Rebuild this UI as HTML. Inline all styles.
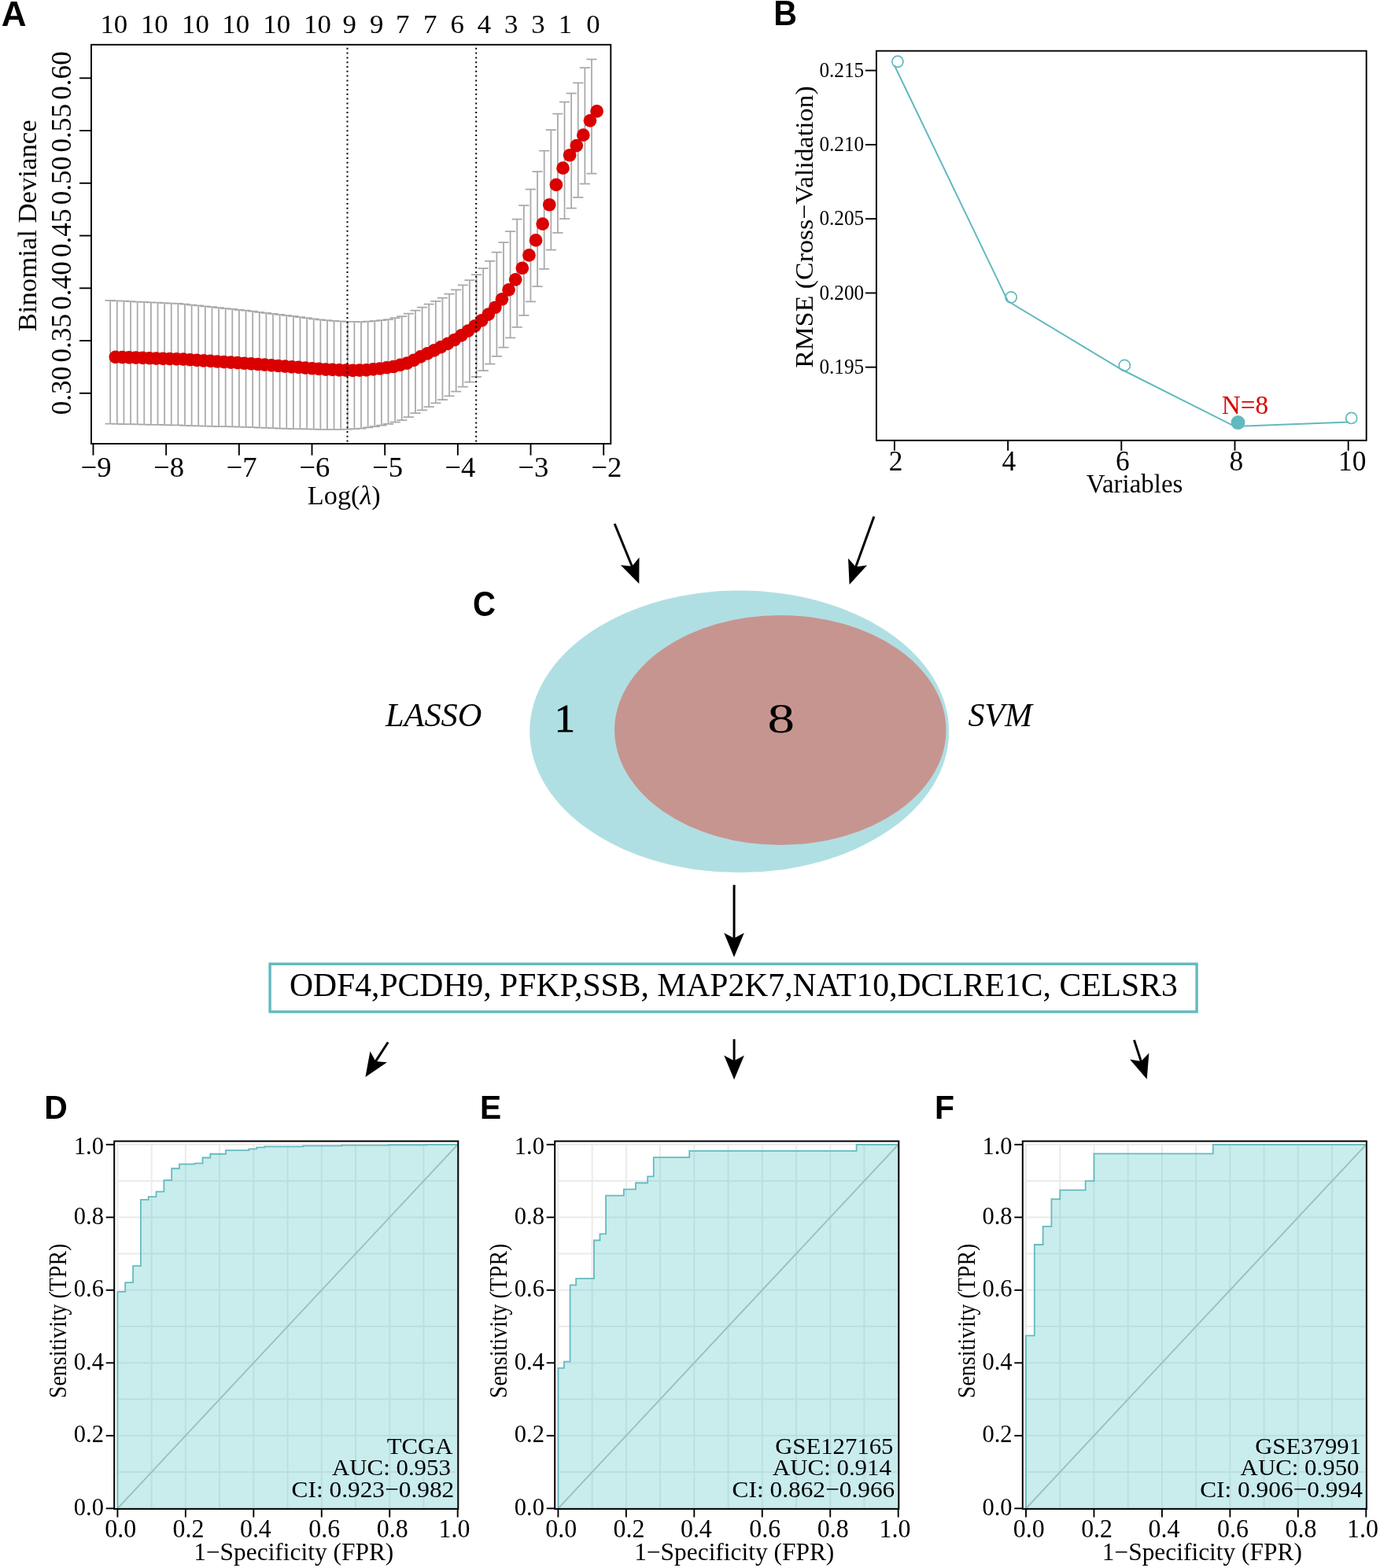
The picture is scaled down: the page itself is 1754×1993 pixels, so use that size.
<!DOCTYPE html><html><head><meta charset="utf-8"><title>Figure</title><style>html,body{margin:0;padding:0;background:#fff;}svg{display:block;}</style></head><body>
<svg width="1754" height="1993" viewBox="0 0 1754 1993">
<rect width="1754" height="1993" fill="#fff"/>
<path d="M140.2 381.9V538.7M133.6 381.9H146.8M133.6 538.7H146.8M148.82 382.3V538.88M142.22 382.3H155.42M142.22 538.88H155.42M157.43 382.7V539.06M150.83 382.7H164.03M150.83 539.06H164.03M166.05 383.1V539.24M159.45 383.1H172.65M159.45 539.24H172.65M174.67 383.5V539.42M168.07 383.5H181.27M168.07 539.42H181.27M183.28 383.91V539.59M176.69 383.91H189.88M176.69 539.59H189.88M191.9 384.31V539.77M185.3 384.31H198.5M185.3 539.77H198.5M200.52 384.71V539.95M193.92 384.71H207.12M193.92 539.95H207.12M209.14 385.11V540.13M202.54 385.11H215.74M202.54 540.13H215.74M217.75 385.51V540.31M211.15 385.51H224.35M211.15 540.31H224.35M226.37 385.91V540.49M219.77 385.91H232.97M219.77 540.49H232.97M234.99 386.63V540.89M228.39 386.63H241.59M228.39 540.89H241.59M243.6 387.52V541.12M237 387.52H250.2M237 541.12H250.2M252.22 388.42V541.34M245.62 388.42H258.82M245.62 541.34H258.82M260.84 389.32V541.56M254.24 389.32H267.44M254.24 541.56H267.44M269.46 390.21V541.79M262.86 390.21H276.06M262.86 541.79H276.06M278.07 391.11V542.01M271.47 391.11H284.67M271.47 542.01H284.67M286.69 392.01V542.23M280.09 392.01H293.29M280.09 542.23H293.29M295.31 392.9V542.46M288.71 392.9H301.91M288.71 542.46H301.91M303.92 393.8V542.68M297.32 393.8H310.52M297.32 542.68H310.52M312.54 394.7V542.9M305.94 394.7H319.14M305.94 542.9H319.14M321.16 395.72V543.24M314.56 395.72H327.76M314.56 543.24H327.76M329.77 396.75V543.57M323.17 396.75H336.37M323.17 543.57H336.37M338.39 397.79V543.89M331.79 397.79H344.99M331.79 543.89H344.99M347.01 398.83V544.21M340.41 398.83H353.61M340.41 544.21H353.61M355.62 399.87V544.53M349.02 399.87H362.23M349.02 544.53H362.23M364.24 400.86V544.81M357.64 400.86H370.84M357.64 544.81H370.84M372.86 401.93V545M366.26 401.93H379.46M366.26 545H379.46M381.48 403.02V545.18M374.88 403.02H388.08M374.88 545.18H388.08M390.09 404.13V545.4M383.49 404.13H396.69M383.49 545.4H396.69M398.71 405.25V545.61M392.11 405.25H405.31M392.11 545.61H405.31M407.33 406.37V545.83M400.73 406.37H413.93M400.73 545.83H413.93M415.94 407.11V545.79M409.34 407.11H422.54M409.34 545.79H422.54M424.56 407.77V545.83M417.96 407.77H431.16M417.96 545.83H431.16M433.18 408.34V545.76M426.58 408.34H439.78M426.58 545.76H439.78M441.8 408.9V545.7M435.19 408.9H448.4M435.19 545.7H448.4M450.41 408.99V545.11M443.81 408.99H457.01M443.81 545.11H457.01M459.03 409.09V544.51M452.43 409.09H465.63M452.43 544.51H465.63M467.65 408.53V543.27M461.05 408.53H474.25M461.05 543.27H474.25M476.26 407.95V542.05M469.66 407.95H482.86M469.66 542.05H482.86M484.88 407V540.5M478.28 407H491.48M478.28 540.5H491.48M493.5 406.04V538.96M486.9 406.04H500.1M486.9 538.96H500.1M502.11 404.07V536.53M495.51 404.07H508.71M495.51 536.53H508.71M510.73 402.09V534.11M504.13 402.09H517.33M504.13 534.11H517.33M519.35 398.68V530.12M512.75 398.68H525.95M512.75 530.12H525.95M527.97 394.5V525.2M521.37 394.5H534.57M521.37 525.2H534.57M536.58 390.5V521.3M529.98 390.5H543.18M529.98 521.3H543.18M545.2 386.7V517.1M538.6 386.7H551.8M538.6 517.1H551.8M553.82 382.8V512.3M547.22 382.8H560.42M547.22 512.3H560.42M562.43 378.5V508.1M555.83 378.5H569.03M555.83 508.1H569.03M571.05 373.7V503.3M564.45 373.7H577.65M564.45 503.3H577.65M579.67 368.4V497.5M573.07 368.4H586.27M573.07 497.5H586.27M588.28 362.4V491.7M581.68 362.4H594.88M581.68 491.7H594.88M596.9 356V485.7M590.3 356H603.5M590.3 485.7H603.5M605.52 349.1V478.8M598.92 349.1H612.12M598.92 478.8H612.12M614.13 341.2V471.2M607.53 341.2H620.74M607.53 471.2H620.74M622.75 331.9V462.6M616.15 331.9H629.35M616.15 462.6H629.35M631.37 320.7V452.9M624.77 320.7H637.97M624.77 452.9H637.97M639.99 308.2V441.5M633.39 308.2H646.59M633.39 441.5H646.59M648.6 294.2V429.4M642 294.2H655.2M642 429.4H655.2M657.22 278.7V415.8M650.62 278.7H663.82M650.62 415.8H663.82M665.84 261.1V400.8M659.24 261.1H672.44M659.24 400.8H672.44M674.45 240.6V383.3M667.85 240.6H681.05M667.85 383.3H681.05M683.07 218V364.1M676.47 218H689.67M676.47 364.1H689.67M691.69 191.6V341.9M685.09 191.6H698.29M685.09 341.9H698.29M700.31 165.1V317.7M693.71 165.1H706.91M693.71 317.7H706.91M708.92 144.6V295.8M702.32 144.6H715.52M702.32 295.8H715.52M717.54 129.5V278M710.94 129.5H724.14M710.94 278H724.14M726.16 118.6V264.5M719.56 118.6H732.76M719.56 264.5H732.76M734.77 105.4V250.9M728.17 105.4H741.37M728.17 250.9H741.37M743.39 86.2V233.5M736.79 86.2H749.99M736.79 233.5H749.99M752.01 75.3V220.5M745.41 75.3H758.61M745.41 220.5H758.61" stroke="#A9A9A9" stroke-width="1.75" fill="none"/>
<circle cx="146.8" cy="453.8" r="8.35" fill="#DA0000"/>
<circle cx="155.42" cy="454.09" r="8.35" fill="#DA0000"/>
<circle cx="164.03" cy="454.38" r="8.35" fill="#DA0000"/>
<circle cx="172.65" cy="454.67" r="8.35" fill="#DA0000"/>
<circle cx="181.27" cy="454.96" r="8.35" fill="#DA0000"/>
<circle cx="189.88" cy="455.25" r="8.35" fill="#DA0000"/>
<circle cx="198.5" cy="455.54" r="8.35" fill="#DA0000"/>
<circle cx="207.12" cy="455.83" r="8.35" fill="#DA0000"/>
<circle cx="215.74" cy="456.12" r="8.35" fill="#DA0000"/>
<circle cx="224.35" cy="456.41" r="8.35" fill="#DA0000"/>
<circle cx="232.97" cy="456.7" r="8.35" fill="#DA0000"/>
<circle cx="241.59" cy="457.26" r="8.35" fill="#DA0000"/>
<circle cx="250.2" cy="457.82" r="8.35" fill="#DA0000"/>
<circle cx="258.82" cy="458.38" r="8.35" fill="#DA0000"/>
<circle cx="267.44" cy="458.94" r="8.35" fill="#DA0000"/>
<circle cx="276.06" cy="459.5" r="8.35" fill="#DA0000"/>
<circle cx="284.67" cy="460.06" r="8.35" fill="#DA0000"/>
<circle cx="293.29" cy="460.62" r="8.35" fill="#DA0000"/>
<circle cx="301.91" cy="461.18" r="8.35" fill="#DA0000"/>
<circle cx="310.52" cy="461.74" r="8.35" fill="#DA0000"/>
<circle cx="319.14" cy="462.3" r="8.35" fill="#DA0000"/>
<circle cx="327.76" cy="462.98" r="8.35" fill="#DA0000"/>
<circle cx="336.37" cy="463.66" r="8.35" fill="#DA0000"/>
<circle cx="344.99" cy="464.34" r="8.35" fill="#DA0000"/>
<circle cx="353.61" cy="465.02" r="8.35" fill="#DA0000"/>
<circle cx="362.23" cy="465.7" r="8.35" fill="#DA0000"/>
<circle cx="370.84" cy="466.33" r="8.35" fill="#DA0000"/>
<circle cx="379.46" cy="466.97" r="8.35" fill="#DA0000"/>
<circle cx="388.08" cy="467.6" r="8.35" fill="#DA0000"/>
<circle cx="396.69" cy="468.27" r="8.35" fill="#DA0000"/>
<circle cx="405.31" cy="468.93" r="8.35" fill="#DA0000"/>
<circle cx="413.93" cy="469.6" r="8.35" fill="#DA0000"/>
<circle cx="422.54" cy="469.95" r="8.35" fill="#DA0000"/>
<circle cx="431.16" cy="470.3" r="8.35" fill="#DA0000"/>
<circle cx="439.78" cy="470.55" r="8.35" fill="#DA0000"/>
<circle cx="448.4" cy="470.8" r="8.35" fill="#DA0000"/>
<circle cx="457.01" cy="470.55" r="8.35" fill="#DA0000"/>
<circle cx="465.63" cy="470.3" r="8.35" fill="#DA0000"/>
<circle cx="474.25" cy="469.4" r="8.35" fill="#DA0000"/>
<circle cx="482.86" cy="468.5" r="8.35" fill="#DA0000"/>
<circle cx="491.48" cy="467.25" r="8.35" fill="#DA0000"/>
<circle cx="500.1" cy="466" r="8.35" fill="#DA0000"/>
<circle cx="508.71" cy="463.8" r="8.35" fill="#DA0000"/>
<circle cx="517.33" cy="461.6" r="8.35" fill="#DA0000"/>
<circle cx="525.95" cy="457.9" r="8.35" fill="#DA0000"/>
<circle cx="534.57" cy="453.35" r="8.35" fill="#DA0000"/>
<circle cx="543.18" cy="449.4" r="8.35" fill="#DA0000"/>
<circle cx="551.8" cy="445.4" r="8.35" fill="#DA0000"/>
<circle cx="560.42" cy="441.05" r="8.35" fill="#DA0000"/>
<circle cx="569.03" cy="436.8" r="8.35" fill="#DA0000"/>
<circle cx="577.65" cy="432" r="8.35" fill="#DA0000"/>
<circle cx="586.27" cy="426.45" r="8.35" fill="#DA0000"/>
<circle cx="594.88" cy="420.55" r="8.35" fill="#DA0000"/>
<circle cx="603.5" cy="414.35" r="8.35" fill="#DA0000"/>
<circle cx="612.12" cy="407.45" r="8.35" fill="#DA0000"/>
<circle cx="620.74" cy="399.7" r="8.35" fill="#DA0000"/>
<circle cx="629.35" cy="390.75" r="8.35" fill="#DA0000"/>
<circle cx="637.97" cy="380.3" r="8.35" fill="#DA0000"/>
<circle cx="646.59" cy="368.35" r="8.35" fill="#DA0000"/>
<circle cx="655.2" cy="355.3" r="8.35" fill="#DA0000"/>
<circle cx="663.82" cy="340.75" r="8.35" fill="#DA0000"/>
<circle cx="672.44" cy="324.45" r="8.35" fill="#DA0000"/>
<circle cx="681.05" cy="305.45" r="8.35" fill="#DA0000"/>
<circle cx="689.67" cy="284.55" r="8.35" fill="#DA0000"/>
<circle cx="698.29" cy="260.25" r="8.35" fill="#DA0000"/>
<circle cx="706.91" cy="234.9" r="8.35" fill="#DA0000"/>
<circle cx="715.52" cy="213.7" r="8.35" fill="#DA0000"/>
<circle cx="724.14" cy="197.25" r="8.35" fill="#DA0000"/>
<circle cx="732.76" cy="185.05" r="8.35" fill="#DA0000"/>
<circle cx="741.37" cy="171.65" r="8.35" fill="#DA0000"/>
<circle cx="749.99" cy="153.35" r="8.35" fill="#DA0000"/>
<circle cx="758.61" cy="141.4" r="8.35" fill="#DA0000"/>
<line x1="441.5" y1="60.8" x2="441.5" y2="561.5" stroke="#000" stroke-width="2" stroke-dasharray="2 3.8"/>
<line x1="605.2" y1="60.8" x2="605.2" y2="561.5" stroke="#000" stroke-width="2" stroke-dasharray="2 3.8"/>
<rect x="116" y="56.8" width="660.3" height="507.2" fill="none" stroke="#000" stroke-width="1.9"/>
<line x1="101" y1="499.8" x2="116" y2="499.8" stroke="#000" stroke-width="1.9" />
<text transform="translate(90.28,527.2) rotate(-90) scale(0.9755,1)" font-family="'Liberation Serif', 'Times New Roman', serif" font-size="35.97" fill="#000" >0.30</text>
<line x1="101" y1="433.05" x2="116" y2="433.05" stroke="#000" stroke-width="1.9" />
<text transform="translate(90.28,460.45) rotate(-90) scale(0.9755,1)" font-family="'Liberation Serif', 'Times New Roman', serif" font-size="35.97" fill="#000" >0.35</text>
<line x1="101" y1="366.3" x2="116" y2="366.3" stroke="#000" stroke-width="1.9" />
<text transform="translate(90.28,393.7) rotate(-90) scale(0.9755,1)" font-family="'Liberation Serif', 'Times New Roman', serif" font-size="35.97" fill="#000" >0.40</text>
<line x1="101" y1="299.55" x2="116" y2="299.55" stroke="#000" stroke-width="1.9" />
<text transform="translate(90.28,326.95) rotate(-90) scale(0.9755,1)" font-family="'Liberation Serif', 'Times New Roman', serif" font-size="35.97" fill="#000" >0.45</text>
<line x1="101" y1="232.8" x2="116" y2="232.8" stroke="#000" stroke-width="1.9" />
<text transform="translate(90.28,260.2) rotate(-90) scale(0.9755,1)" font-family="'Liberation Serif', 'Times New Roman', serif" font-size="35.97" fill="#000" >0.50</text>
<line x1="101" y1="166.05" x2="116" y2="166.05" stroke="#000" stroke-width="1.9" />
<text transform="translate(90.28,193.45) rotate(-90) scale(0.9755,1)" font-family="'Liberation Serif', 'Times New Roman', serif" font-size="35.97" fill="#000" >0.55</text>
<line x1="101" y1="99.3" x2="116" y2="99.3" stroke="#000" stroke-width="1.9" />
<text transform="translate(90.28,126.7) rotate(-90) scale(0.9755,1)" font-family="'Liberation Serif', 'Times New Roman', serif" font-size="35.97" fill="#000" >0.60</text>
<line x1="118.5" y1="564" x2="118.5" y2="578.7" stroke="#000" stroke-width="1.9" />
<text transform="translate(102.46,606.44) scale(1.0093,1)" font-family="'Liberation Serif', 'Times New Roman', serif" font-size="36.36" fill="#000" >−9</text>
<line x1="211.17" y1="564" x2="211.17" y2="578.7" stroke="#000" stroke-width="1.9" />
<text transform="translate(194.95,606.44) scale(1.0093,1)" font-family="'Liberation Serif', 'Times New Roman', serif" font-size="36.36" fill="#000" >−8</text>
<line x1="303.84" y1="564" x2="303.84" y2="578.7" stroke="#000" stroke-width="1.9" />
<text transform="translate(287.44,606.44) scale(1.0093,1)" font-family="'Liberation Serif', 'Times New Roman', serif" font-size="36.36" fill="#000" >−7</text>
<line x1="396.51" y1="564" x2="396.51" y2="578.7" stroke="#000" stroke-width="1.9" />
<text transform="translate(380.29,606.44) scale(1.0093,1)" font-family="'Liberation Serif', 'Times New Roman', serif" font-size="36.36" fill="#000" >−6</text>
<line x1="489.18" y1="564" x2="489.18" y2="578.7" stroke="#000" stroke-width="1.9" />
<text transform="translate(472.96,606.44) scale(1.0093,1)" font-family="'Liberation Serif', 'Times New Roman', serif" font-size="36.36" fill="#000" >−5</text>
<line x1="581.85" y1="564" x2="581.85" y2="578.7" stroke="#000" stroke-width="1.9" />
<text transform="translate(565.26,606.44) scale(1.0093,1)" font-family="'Liberation Serif', 'Times New Roman', serif" font-size="36.36" fill="#000" >−4</text>
<line x1="674.52" y1="564" x2="674.52" y2="578.7" stroke="#000" stroke-width="1.9" />
<text transform="translate(658.3,606.44) scale(1.0093,1)" font-family="'Liberation Serif', 'Times New Roman', serif" font-size="36.36" fill="#000" >−3</text>
<line x1="767.19" y1="564" x2="767.19" y2="578.7" stroke="#000" stroke-width="1.9" />
<text transform="translate(751.34,606.44) scale(1.0093,1)" font-family="'Liberation Serif', 'Times New Roman', serif" font-size="36.36" fill="#000" >−2</text>
<text transform="translate(127.42,42.11) scale(1.0035,1)" font-family="'Liberation Serif', 'Times New Roman', serif" font-size="34.71" fill="#000" >10</text>
<text transform="translate(178.92,42.11) scale(1.0035,1)" font-family="'Liberation Serif', 'Times New Roman', serif" font-size="34.71" fill="#000" >10</text>
<text transform="translate(231.02,42.11) scale(1.0035,1)" font-family="'Liberation Serif', 'Times New Roman', serif" font-size="34.71" fill="#000" >10</text>
<text transform="translate(282.32,42.11) scale(1.0035,1)" font-family="'Liberation Serif', 'Times New Roman', serif" font-size="34.71" fill="#000" >10</text>
<text transform="translate(334.32,42.11) scale(1.0035,1)" font-family="'Liberation Serif', 'Times New Roman', serif" font-size="34.71" fill="#000" >10</text>
<text transform="translate(386.02,42.11) scale(1.0035,1)" font-family="'Liberation Serif', 'Times New Roman', serif" font-size="34.71" fill="#000" >10</text>
<text transform="translate(435.57,42.11) scale(1.0035,1)" font-family="'Liberation Serif', 'Times New Roman', serif" font-size="34.71" fill="#000" >9</text>
<text transform="translate(469.97,42.11) scale(1.0035,1)" font-family="'Liberation Serif', 'Times New Roman', serif" font-size="34.71" fill="#000" >9</text>
<text transform="translate(503,42.11) scale(1.0035,1)" font-family="'Liberation Serif', 'Times New Roman', serif" font-size="34.71" fill="#000" >7</text>
<text transform="translate(537.9,42.11) scale(1.0035,1)" font-family="'Liberation Serif', 'Times New Roman', serif" font-size="34.71" fill="#000" >7</text>
<text transform="translate(572.62,42.11) scale(1.0035,1)" font-family="'Liberation Serif', 'Times New Roman', serif" font-size="34.71" fill="#000" >6</text>
<text transform="translate(606.69,42.11) scale(1.0035,1)" font-family="'Liberation Serif', 'Times New Roman', serif" font-size="34.71" fill="#000" >4</text>
<text transform="translate(641.02,42.11) scale(1.0035,1)" font-family="'Liberation Serif', 'Times New Roman', serif" font-size="34.71" fill="#000" >3</text>
<text transform="translate(675.32,42.11) scale(1.0035,1)" font-family="'Liberation Serif', 'Times New Roman', serif" font-size="34.71" fill="#000" >3</text>
<text transform="translate(709.77,42.11) scale(1.0035,1)" font-family="'Liberation Serif', 'Times New Roman', serif" font-size="34.71" fill="#000" >1</text>
<text transform="translate(745.29,42.11) scale(1.0035,1)" font-family="'Liberation Serif', 'Times New Roman', serif" font-size="34.71" fill="#000" >0</text>
<text transform="translate(390.81,641.31) scale(1.0081,1)" font-family="'Liberation Serif', 'Times New Roman', serif" font-size="34.04" fill="#000" >Log(<tspan font-style="italic">λ</tspan>)</text>
<text transform="translate(46.06,421.34) rotate(-90) scale(1.0253,1)" font-family="'Liberation Serif', 'Times New Roman', serif" font-size="33.86" fill="#000" >Binomial Deviance</text>
<text transform="translate(1.78,32.94) scale(1.0027,1)" font-family="'Liberation Sans', Arial, sans-serif" font-size="43.97" fill="#000" font-weight="bold">A</text>
<rect x="1113.9" y="64.7" width="622.8" height="495.1" fill="none" stroke="#000" stroke-width="1.9"/>
<line x1="1099.9" y1="89.6" x2="1113.9" y2="89.6" stroke="#000" stroke-width="1.9" />
<text transform="translate(1041.39,97.76) scale(0.9435,1)" font-family="'Liberation Serif', 'Times New Roman', serif" font-size="26.76" fill="#000" >0.215</text>
<line x1="1099.9" y1="183.88" x2="1113.9" y2="183.88" stroke="#000" stroke-width="1.9" />
<text transform="translate(1041.39,192.04) scale(0.9435,1)" font-family="'Liberation Serif', 'Times New Roman', serif" font-size="26.76" fill="#000" >0.210</text>
<line x1="1099.9" y1="278.15" x2="1113.9" y2="278.15" stroke="#000" stroke-width="1.9" />
<text transform="translate(1041.39,286.31) scale(0.9435,1)" font-family="'Liberation Serif', 'Times New Roman', serif" font-size="26.76" fill="#000" >0.205</text>
<line x1="1099.9" y1="372.42" x2="1113.9" y2="372.42" stroke="#000" stroke-width="1.9" />
<text transform="translate(1041.39,380.59) scale(0.9435,1)" font-family="'Liberation Serif', 'Times New Roman', serif" font-size="26.76" fill="#000" >0.200</text>
<line x1="1099.9" y1="466.7" x2="1113.9" y2="466.7" stroke="#000" stroke-width="1.9" />
<text transform="translate(1041.39,474.86) scale(0.9435,1)" font-family="'Liberation Serif', 'Times New Roman', serif" font-size="26.76" fill="#000" >0.195</text>
<line x1="1136.9" y1="559.8" x2="1136.9" y2="572.8" stroke="#000" stroke-width="1.9" />
<text transform="translate(1129.71,597.9)" font-family="'Liberation Serif', 'Times New Roman', serif" font-size="35.38" fill="#000" >2</text>
<line x1="1281.1" y1="559.8" x2="1281.1" y2="572.8" stroke="#000" stroke-width="1.9" />
<text transform="translate(1273.55,597.9)" font-family="'Liberation Serif', 'Times New Roman', serif" font-size="35.38" fill="#000" >4</text>
<line x1="1425.3" y1="559.8" x2="1425.3" y2="572.8" stroke="#000" stroke-width="1.9" />
<text transform="translate(1417.98,597.9)" font-family="'Liberation Serif', 'Times New Roman', serif" font-size="35.38" fill="#000" >6</text>
<line x1="1569.5" y1="559.8" x2="1569.5" y2="572.8" stroke="#000" stroke-width="1.9" />
<text transform="translate(1562.55,597.9)" font-family="'Liberation Serif', 'Times New Roman', serif" font-size="35.38" fill="#000" >8</text>
<line x1="1713.7" y1="559.8" x2="1713.7" y2="572.8" stroke="#000" stroke-width="1.9" />
<text transform="translate(1701.02,597.9)" font-family="'Liberation Serif', 'Times New Roman', serif" font-size="35.38" fill="#000" >10</text>
<text transform="translate(1380.87,625.51) scale(0.9583,1)" font-family="'Liberation Serif', 'Times New Roman', serif" font-size="34.37" fill="#000" >Variables</text>
<text transform="translate(1033.26,467.82) rotate(-90) scale(1.0400,1)" font-family="'Liberation Serif', 'Times New Roman', serif" font-size="32.56" fill="#000" >RMSE (Cross−Validation)</text>
<polyline points="1136.9,83.3 1281.1,382.9 1425.3,469.5 1569.5,542.1 1713.7,536.4" fill="none" stroke="#62B9BE" stroke-width="2"/>
<circle cx="1140.9" cy="78.3" r="7.1" fill="#fff" fill-opacity="0" stroke="#62B9BE" stroke-width="1.7"/>
<circle cx="1285.1" cy="377.9" r="7.1" fill="#fff" fill-opacity="0" stroke="#62B9BE" stroke-width="1.7"/>
<circle cx="1429.3" cy="464.5" r="7.1" fill="#fff" fill-opacity="0" stroke="#62B9BE" stroke-width="1.7"/>
<circle cx="1717.7" cy="531.4" r="7.1" fill="#fff" fill-opacity="0" stroke="#62B9BE" stroke-width="1.7"/>
<circle cx="1573.5" cy="537.1" r="9" fill="#62B9BE"/>
<text transform="translate(1552.8,526.02) scale(0.9713,1)" font-family="'Liberation Serif', 'Times New Roman', serif" font-size="34.18" fill="#DA0000" >N=8</text>
<text transform="translate(983.22,32.2) scale(0.9464,1)" font-family="'Liberation Sans', Arial, sans-serif" font-size="43.48" fill="#000" font-weight="bold">B</text>
<ellipse cx="939.7" cy="929.8" rx="266.5" ry="179.3" fill="#B0DFE3"/>
<ellipse cx="991.8" cy="928" rx="210.7" ry="146" fill="#C79590"/>
<text transform="translate(490.02,923.45)" font-family="'Liberation Serif', 'Times New Roman', serif" font-size="42.35" fill="#000" font-style="italic">LASSO</text>
<text transform="translate(1230.38,923.46)" font-family="'Liberation Serif', 'Times New Roman', serif" font-size="41.94" fill="#000" font-style="italic">SVM</text>
<text transform="translate(704.79,930.3) scale(1.0521,1)" font-family="'Liberation Serif', 'Times New Roman', serif" font-size="49.70" fill="#000" stroke="#000" stroke-width="0.9">1</text>
<text transform="translate(975.54,930.54) scale(1.3068,1)" font-family="'Liberation Serif', 'Times New Roman', serif" font-size="52.84" fill="#000" >8</text>
<text transform="translate(601.09,783.16) scale(0.9226,1)" font-family="'Liberation Sans', Arial, sans-serif" font-size="43.52" fill="#000" font-weight="bold">C</text>
<line x1="781.2" y1="665.7" x2="803.99" y2="721.53" stroke="#000" stroke-width="3" />
<polygon points="812.3,741.9 812.53,708.6 803.23,719.68 788.83,718.27" fill="#000"/>
<line x1="1110.9" y1="656.6" x2="1087.09" y2="722.32" stroke="#000" stroke-width="3" />
<polygon points="1079.6,743 1102.1,718.45 1087.77,720.44 1078.04,709.74" fill="#000"/>
<line x1="933.1" y1="1124.8" x2="933.02" y2="1194.6" stroke="#000" stroke-width="3" />
<polygon points="933,1216.6 945.83,1185.87 933.03,1192.6 920.24,1185.84" fill="#000"/>
<line x1="493.2" y1="1324.8" x2="476.41" y2="1350.57" stroke="#000" stroke-width="3" />
<polygon points="464.4,1369 491.91,1350.23 477.5,1348.89 470.46,1336.26" fill="#000"/>
<line x1="933.1" y1="1320.8" x2="933.1" y2="1350.3" stroke="#000" stroke-width="3" />
<polygon points="933.1,1372.3 945.9,1341.56 933.1,1348.3 920.3,1341.56" fill="#000"/>
<line x1="1441.5" y1="1321.9" x2="1450.91" y2="1350.88" stroke="#000" stroke-width="3" />
<polygon points="1457.7,1371.8 1460.38,1338.61 1450.29,1348.97 1436.04,1346.51" fill="#000"/>
<rect x="343.1" y="1225.2" width="1178" height="60.8" fill="none" stroke="#62B9BE" stroke-width="3.4"/>
<text transform="translate(367.93,1265.67) scale(0.9897,1)" font-family="'Liberation Serif', 'Times New Roman', serif" font-size="42.07" fill="#000" >ODF4,PCDH9, PFKP,SSB, MAP2K7,NAT10,DCLRE1C, CELSR3</text>
<path d="M149.4 1454.8V1917.3M149.4 1917.3H581.7M192.63 1454.8V1917.3M149.4 1871.05H581.7M235.86 1454.8V1917.3M149.4 1824.8H581.7M279.09 1454.8V1917.3M149.4 1778.55H581.7M322.32 1454.8V1917.3M149.4 1732.3H581.7M365.55 1454.8V1917.3M149.4 1686.05H581.7M408.78 1454.8V1917.3M149.4 1639.8H581.7M452.01 1454.8V1917.3M149.4 1593.55H581.7M495.24 1454.8V1917.3M149.4 1547.3H581.7M538.47 1454.8V1917.3M149.4 1501.05H581.7M581.7 1454.8V1917.3M149.4 1454.8H581.7" stroke="#EBEBEB" stroke-width="2" fill="none"/>
<line x1="149.4" y1="1917.3" x2="581.7" y2="1454.8" stroke="#B9B9B9" stroke-width="1.8" />
<path d="M149.4 1917.3L149.4 1641.79L159.22 1641.79L159.22 1630.18L169.05 1630.18L169.05 1609.04L178.88 1609.04L178.88 1524.78L188.7 1524.78L188.7 1521.17L198.53 1521.17L198.53 1514.55L208.35 1514.55L208.35 1500.03L218.18 1500.03L218.18 1485.23L228 1485.23L228 1479.64L247.65 1479.64L247.65 1478.53L257.48 1478.53L257.48 1471.5L267.3 1471.5L267.3 1466.73L286.95 1466.73L286.95 1462.11L316.43 1462.11L316.43 1460.4L326.25 1460.4L326.25 1458.32L336.08 1458.32L336.08 1457.39L385.2 1457.39L385.2 1456.42L434.33 1456.42L434.33 1455.72L493.28 1455.72L493.28 1455.26L542.4 1455.26L542.4 1454.8L581.7 1454.8L581.7 1917.3Z" fill="#5BC5C8" fill-opacity="0.33" stroke="none"/>
<path d="M149.4 1917.3L149.4 1641.79L159.22 1641.79L159.22 1630.18L169.05 1630.18L169.05 1609.04L178.88 1609.04L178.88 1524.78L188.7 1524.78L188.7 1521.17L198.53 1521.17L198.53 1514.55L208.35 1514.55L208.35 1500.03L218.18 1500.03L218.18 1485.23L228 1485.23L228 1479.64L247.65 1479.64L247.65 1478.53L257.48 1478.53L257.48 1471.5L267.3 1471.5L267.3 1466.73L286.95 1466.73L286.95 1462.11L316.43 1462.11L316.43 1460.4L326.25 1460.4L326.25 1458.32L336.08 1458.32L336.08 1457.39L385.2 1457.39L385.2 1456.42L434.33 1456.42L434.33 1455.72L493.28 1455.72L493.28 1455.26L542.4 1455.26L542.4 1454.8L581.7 1454.8" fill="none" stroke="#64BBC0" stroke-width="1.8" stroke-linejoin="miter"/>
<rect x="145.2" y="1450.5" width="437.1" height="467.4" fill="none" stroke="#000" stroke-width="2"/>
<line x1="134.7" y1="1917.3" x2="145.2" y2="1917.3" stroke="#000" stroke-width="1.9" />
<text transform="translate(93.85,1925.8) scale(0.9525,1)" font-family="'Liberation Serif', 'Times New Roman', serif" font-size="32.06" fill="#000" >0.0</text>
<line x1="149.4" y1="1917.5" x2="149.4" y2="1928.5" stroke="#000" stroke-width="1.9" />
<text transform="translate(133.22,1953.94) scale(0.9647,1)" font-family="'Liberation Serif', 'Times New Roman', serif" font-size="33.13" fill="#000" >0.0</text>
<line x1="134.7" y1="1824.8" x2="145.2" y2="1824.8" stroke="#000" stroke-width="1.9" />
<text transform="translate(93.85,1833.3) scale(0.9525,1)" font-family="'Liberation Serif', 'Times New Roman', serif" font-size="32.06" fill="#000" >0.2</text>
<line x1="235.86" y1="1917.5" x2="235.86" y2="1928.5" stroke="#000" stroke-width="1.9" />
<text transform="translate(219.54,1953.94) scale(0.9647,1)" font-family="'Liberation Serif', 'Times New Roman', serif" font-size="33.13" fill="#000" >0.2</text>
<line x1="134.7" y1="1732.3" x2="145.2" y2="1732.3" stroke="#000" stroke-width="1.9" />
<text transform="translate(93.85,1740.8) scale(0.9525,1)" font-family="'Liberation Serif', 'Times New Roman', serif" font-size="32.06" fill="#000" >0.4</text>
<line x1="322.32" y1="1917.5" x2="322.32" y2="1928.5" stroke="#000" stroke-width="1.9" />
<text transform="translate(304.9,1953.94) scale(0.9647,1)" font-family="'Liberation Serif', 'Times New Roman', serif" font-size="33.13" fill="#000" >0.4</text>
<line x1="134.7" y1="1639.8" x2="145.2" y2="1639.8" stroke="#000" stroke-width="1.9" />
<text transform="translate(93.85,1648.3) scale(0.9525,1)" font-family="'Liberation Serif', 'Times New Roman', serif" font-size="32.06" fill="#000" >0.6</text>
<line x1="408.78" y1="1917.5" x2="408.78" y2="1928.5" stroke="#000" stroke-width="1.9" />
<text transform="translate(392.36,1953.94) scale(0.9647,1)" font-family="'Liberation Serif', 'Times New Roman', serif" font-size="33.13" fill="#000" >0.6</text>
<line x1="134.7" y1="1547.3" x2="145.2" y2="1547.3" stroke="#000" stroke-width="1.9" />
<text transform="translate(93.85,1555.8) scale(0.9525,1)" font-family="'Liberation Serif', 'Times New Roman', serif" font-size="32.06" fill="#000" >0.8</text>
<line x1="495.24" y1="1917.5" x2="495.24" y2="1928.5" stroke="#000" stroke-width="1.9" />
<text transform="translate(478.82,1953.94) scale(0.9647,1)" font-family="'Liberation Serif', 'Times New Roman', serif" font-size="33.13" fill="#000" >0.8</text>
<line x1="134.7" y1="1454.8" x2="145.2" y2="1454.8" stroke="#000" stroke-width="1.9" />
<text transform="translate(93.85,1467.16) scale(0.9525,1)" font-family="'Liberation Serif', 'Times New Roman', serif" font-size="32.06" fill="#000" >1.0</text>
<line x1="581.7" y1="1917.5" x2="581.7" y2="1928.5" stroke="#000" stroke-width="1.9" />
<text transform="translate(557.42,1953.94) scale(0.9647,1)" font-family="'Liberation Serif', 'Times New Roman', serif" font-size="33.13" fill="#000" >1.0</text>
<text transform="translate(246.18,1983.1)" font-family="'Liberation Serif', 'Times New Roman', serif" font-size="31.41" fill="#000" >1−Specificity (FPR)</text>
<text transform="translate(84.22,1777.16) rotate(-90) scale(0.8928,1)" font-family="'Liberation Serif', 'Times New Roman', serif" font-size="31.33" fill="#000" >Sensitivity (TPR)</text>
<text transform="translate(491.79,1847.62) scale(1.0612,1)" font-family="'Liberation Serif', 'Times New Roman', serif" font-size="28.97" fill="#000" >TCGA</text>
<text transform="translate(421.99,1875.1) scale(1.0347,1)" font-family="'Liberation Serif', 'Times New Roman', serif" font-size="29.85" fill="#000" >AUC: 0.953</text>
<text transform="translate(370.55,1902.69) scale(1.0353,1)" font-family="'Liberation Serif', 'Times New Roman', serif" font-size="30.30" fill="#000" >CI: 0.923−0.982</text>
<text transform="translate(56.13,1421.7) scale(0.9458,1)" font-family="'Liberation Sans', Arial, sans-serif" font-size="43.33" fill="#000" font-weight="bold">D</text>
<path d="M709.4 1454.8V1917.3M709.4 1917.3H1141.7M752.63 1454.8V1917.3M709.4 1871.05H1141.7M795.86 1454.8V1917.3M709.4 1824.8H1141.7M839.09 1454.8V1917.3M709.4 1778.55H1141.7M882.32 1454.8V1917.3M709.4 1732.3H1141.7M925.55 1454.8V1917.3M709.4 1686.05H1141.7M968.78 1454.8V1917.3M709.4 1639.8H1141.7M1012.01 1454.8V1917.3M709.4 1593.55H1141.7M1055.24 1454.8V1917.3M709.4 1547.3H1141.7M1098.47 1454.8V1917.3M709.4 1501.05H1141.7M1141.7 1454.8V1917.3M709.4 1454.8H1141.7" stroke="#EBEBEB" stroke-width="2" fill="none"/>
<line x1="709.4" y1="1917.3" x2="1141.7" y2="1454.8" stroke="#B9B9B9" stroke-width="1.8" />
<path d="M709.4 1917.3L709.4 1738.79L716.98 1738.79L716.98 1730.68L724.57 1730.68L724.57 1633.31L732.15 1633.31L732.15 1625.19L754.91 1625.19L754.91 1576.51L762.49 1576.51L762.49 1568.4L770.07 1568.4L770.07 1519.71L792.83 1519.71L792.83 1511.6L807.99 1511.6L807.99 1503.48L823.16 1503.48L823.16 1495.37L830.75 1495.37L830.75 1471.03L876.25 1471.03L876.25 1462.91L1088.61 1462.91L1088.61 1454.8L1141.7 1454.8L1141.7 1917.3Z" fill="#5BC5C8" fill-opacity="0.33" stroke="none"/>
<path d="M709.4 1917.3L709.4 1738.79L716.98 1738.79L716.98 1730.68L724.57 1730.68L724.57 1633.31L732.15 1633.31L732.15 1625.19L754.91 1625.19L754.91 1576.51L762.49 1576.51L762.49 1568.4L770.07 1568.4L770.07 1519.71L792.83 1519.71L792.83 1511.6L807.99 1511.6L807.99 1503.48L823.16 1503.48L823.16 1495.37L830.75 1495.37L830.75 1471.03L876.25 1471.03L876.25 1462.91L1088.61 1462.91L1088.61 1454.8L1141.7 1454.8" fill="none" stroke="#64BBC0" stroke-width="1.8" stroke-linejoin="miter"/>
<rect x="705.2" y="1450.5" width="437.1" height="467.4" fill="none" stroke="#000" stroke-width="2"/>
<line x1="694.7" y1="1917.3" x2="705.2" y2="1917.3" stroke="#000" stroke-width="1.9" />
<text transform="translate(653.85,1925.8) scale(0.9525,1)" font-family="'Liberation Serif', 'Times New Roman', serif" font-size="32.06" fill="#000" >0.0</text>
<line x1="709.4" y1="1917.5" x2="709.4" y2="1928.5" stroke="#000" stroke-width="1.9" />
<text transform="translate(693.22,1953.94) scale(0.9647,1)" font-family="'Liberation Serif', 'Times New Roman', serif" font-size="33.13" fill="#000" >0.0</text>
<line x1="694.7" y1="1824.8" x2="705.2" y2="1824.8" stroke="#000" stroke-width="1.9" />
<text transform="translate(653.85,1833.3) scale(0.9525,1)" font-family="'Liberation Serif', 'Times New Roman', serif" font-size="32.06" fill="#000" >0.2</text>
<line x1="795.86" y1="1917.5" x2="795.86" y2="1928.5" stroke="#000" stroke-width="1.9" />
<text transform="translate(779.54,1953.94) scale(0.9647,1)" font-family="'Liberation Serif', 'Times New Roman', serif" font-size="33.13" fill="#000" >0.2</text>
<line x1="694.7" y1="1732.3" x2="705.2" y2="1732.3" stroke="#000" stroke-width="1.9" />
<text transform="translate(653.85,1740.8) scale(0.9525,1)" font-family="'Liberation Serif', 'Times New Roman', serif" font-size="32.06" fill="#000" >0.4</text>
<line x1="882.32" y1="1917.5" x2="882.32" y2="1928.5" stroke="#000" stroke-width="1.9" />
<text transform="translate(864.9,1953.94) scale(0.9647,1)" font-family="'Liberation Serif', 'Times New Roman', serif" font-size="33.13" fill="#000" >0.4</text>
<line x1="694.7" y1="1639.8" x2="705.2" y2="1639.8" stroke="#000" stroke-width="1.9" />
<text transform="translate(653.85,1648.3) scale(0.9525,1)" font-family="'Liberation Serif', 'Times New Roman', serif" font-size="32.06" fill="#000" >0.6</text>
<line x1="968.78" y1="1917.5" x2="968.78" y2="1928.5" stroke="#000" stroke-width="1.9" />
<text transform="translate(952.36,1953.94) scale(0.9647,1)" font-family="'Liberation Serif', 'Times New Roman', serif" font-size="33.13" fill="#000" >0.6</text>
<line x1="694.7" y1="1547.3" x2="705.2" y2="1547.3" stroke="#000" stroke-width="1.9" />
<text transform="translate(653.85,1555.8) scale(0.9525,1)" font-family="'Liberation Serif', 'Times New Roman', serif" font-size="32.06" fill="#000" >0.8</text>
<line x1="1055.24" y1="1917.5" x2="1055.24" y2="1928.5" stroke="#000" stroke-width="1.9" />
<text transform="translate(1038.82,1953.94) scale(0.9647,1)" font-family="'Liberation Serif', 'Times New Roman', serif" font-size="33.13" fill="#000" >0.8</text>
<line x1="694.7" y1="1454.8" x2="705.2" y2="1454.8" stroke="#000" stroke-width="1.9" />
<text transform="translate(653.85,1467.16) scale(0.9525,1)" font-family="'Liberation Serif', 'Times New Roman', serif" font-size="32.06" fill="#000" >1.0</text>
<line x1="1141.7" y1="1917.5" x2="1141.7" y2="1928.5" stroke="#000" stroke-width="1.9" />
<text transform="translate(1117.42,1953.94) scale(0.9647,1)" font-family="'Liberation Serif', 'Times New Roman', serif" font-size="33.13" fill="#000" >1.0</text>
<text transform="translate(806.18,1983.1)" font-family="'Liberation Serif', 'Times New Roman', serif" font-size="31.41" fill="#000" >1−Specificity (FPR)</text>
<text transform="translate(644.22,1777.16) rotate(-90) scale(0.8928,1)" font-family="'Liberation Serif', 'Times New Roman', serif" font-size="31.33" fill="#000" >Sensitivity (TPR)</text>
<text transform="translate(985.16,1847.62) scale(1.0612,1)" font-family="'Liberation Serif', 'Times New Roman', serif" font-size="28.97" fill="#000" >GSE127165</text>
<text transform="translate(981.99,1875.1) scale(1.0347,1)" font-family="'Liberation Serif', 'Times New Roman', serif" font-size="29.85" fill="#000" >AUC: 0.914</text>
<text transform="translate(930.55,1902.69) scale(1.0353,1)" font-family="'Liberation Serif', 'Times New Roman', serif" font-size="30.30" fill="#000" >CI: 0.862−0.966</text>
<text transform="translate(609.95,1421.7) scale(0.9396,1)" font-family="'Liberation Sans', Arial, sans-serif" font-size="43.33" fill="#000" font-weight="bold">E</text>
<path d="M1304 1454.8V1917.3M1304 1917.3H1736.3M1347.23 1454.8V1917.3M1304 1871.05H1736.3M1390.46 1454.8V1917.3M1304 1824.8H1736.3M1433.69 1454.8V1917.3M1304 1778.55H1736.3M1476.92 1454.8V1917.3M1304 1732.3H1736.3M1520.15 1454.8V1917.3M1304 1686.05H1736.3M1563.38 1454.8V1917.3M1304 1639.8H1736.3M1606.61 1454.8V1917.3M1304 1593.55H1736.3M1649.84 1454.8V1917.3M1304 1547.3H1736.3M1693.07 1454.8V1917.3M1304 1501.05H1736.3M1736.3 1454.8V1917.3M1304 1454.8H1736.3" stroke="#EBEBEB" stroke-width="2" fill="none"/>
<line x1="1304" y1="1917.3" x2="1736.3" y2="1454.8" stroke="#B9B9B9" stroke-width="1.8" />
<path d="M1304 1917.3L1304 1697.61L1314.81 1697.61L1314.81 1581.99L1325.62 1581.99L1325.62 1558.86L1336.42 1558.86L1336.42 1524.17L1347.23 1524.17L1347.23 1512.61L1379.65 1512.61L1379.65 1501.05L1390.46 1501.05L1390.46 1466.36L1541.76 1466.36L1541.76 1454.8L1736.3 1454.8L1736.3 1917.3Z" fill="#5BC5C8" fill-opacity="0.33" stroke="none"/>
<path d="M1304 1917.3L1304 1697.61L1314.81 1697.61L1314.81 1581.99L1325.62 1581.99L1325.62 1558.86L1336.42 1558.86L1336.42 1524.17L1347.23 1524.17L1347.23 1512.61L1379.65 1512.61L1379.65 1501.05L1390.46 1501.05L1390.46 1466.36L1541.76 1466.36L1541.76 1454.8L1736.3 1454.8" fill="none" stroke="#64BBC0" stroke-width="1.8" stroke-linejoin="miter"/>
<rect x="1299.8" y="1450.5" width="437.1" height="467.4" fill="none" stroke="#000" stroke-width="2"/>
<line x1="1289.3" y1="1917.3" x2="1299.8" y2="1917.3" stroke="#000" stroke-width="1.9" />
<text transform="translate(1248.45,1925.8) scale(0.9525,1)" font-family="'Liberation Serif', 'Times New Roman', serif" font-size="32.06" fill="#000" >0.0</text>
<line x1="1304" y1="1917.5" x2="1304" y2="1928.5" stroke="#000" stroke-width="1.9" />
<text transform="translate(1287.82,1953.94) scale(0.9647,1)" font-family="'Liberation Serif', 'Times New Roman', serif" font-size="33.13" fill="#000" >0.0</text>
<line x1="1289.3" y1="1824.8" x2="1299.8" y2="1824.8" stroke="#000" stroke-width="1.9" />
<text transform="translate(1248.45,1833.3) scale(0.9525,1)" font-family="'Liberation Serif', 'Times New Roman', serif" font-size="32.06" fill="#000" >0.2</text>
<line x1="1390.46" y1="1917.5" x2="1390.46" y2="1928.5" stroke="#000" stroke-width="1.9" />
<text transform="translate(1374.14,1953.94) scale(0.9647,1)" font-family="'Liberation Serif', 'Times New Roman', serif" font-size="33.13" fill="#000" >0.2</text>
<line x1="1289.3" y1="1732.3" x2="1299.8" y2="1732.3" stroke="#000" stroke-width="1.9" />
<text transform="translate(1248.45,1740.8) scale(0.9525,1)" font-family="'Liberation Serif', 'Times New Roman', serif" font-size="32.06" fill="#000" >0.4</text>
<line x1="1476.92" y1="1917.5" x2="1476.92" y2="1928.5" stroke="#000" stroke-width="1.9" />
<text transform="translate(1459.5,1953.94) scale(0.9647,1)" font-family="'Liberation Serif', 'Times New Roman', serif" font-size="33.13" fill="#000" >0.4</text>
<line x1="1289.3" y1="1639.8" x2="1299.8" y2="1639.8" stroke="#000" stroke-width="1.9" />
<text transform="translate(1248.45,1648.3) scale(0.9525,1)" font-family="'Liberation Serif', 'Times New Roman', serif" font-size="32.06" fill="#000" >0.6</text>
<line x1="1563.38" y1="1917.5" x2="1563.38" y2="1928.5" stroke="#000" stroke-width="1.9" />
<text transform="translate(1546.96,1953.94) scale(0.9647,1)" font-family="'Liberation Serif', 'Times New Roman', serif" font-size="33.13" fill="#000" >0.6</text>
<line x1="1289.3" y1="1547.3" x2="1299.8" y2="1547.3" stroke="#000" stroke-width="1.9" />
<text transform="translate(1248.45,1555.8) scale(0.9525,1)" font-family="'Liberation Serif', 'Times New Roman', serif" font-size="32.06" fill="#000" >0.8</text>
<line x1="1649.84" y1="1917.5" x2="1649.84" y2="1928.5" stroke="#000" stroke-width="1.9" />
<text transform="translate(1633.42,1953.94) scale(0.9647,1)" font-family="'Liberation Serif', 'Times New Roman', serif" font-size="33.13" fill="#000" >0.8</text>
<line x1="1289.3" y1="1454.8" x2="1299.8" y2="1454.8" stroke="#000" stroke-width="1.9" />
<text transform="translate(1248.45,1467.16) scale(0.9525,1)" font-family="'Liberation Serif', 'Times New Roman', serif" font-size="32.06" fill="#000" >1.0</text>
<line x1="1736.3" y1="1917.5" x2="1736.3" y2="1928.5" stroke="#000" stroke-width="1.9" />
<text transform="translate(1712.02,1953.94) scale(0.9647,1)" font-family="'Liberation Serif', 'Times New Roman', serif" font-size="33.13" fill="#000" >1.0</text>
<text transform="translate(1400.78,1983.1)" font-family="'Liberation Serif', 'Times New Roman', serif" font-size="31.41" fill="#000" >1−Specificity (FPR)</text>
<text transform="translate(1238.82,1777.16) rotate(-90) scale(0.8928,1)" font-family="'Liberation Serif', 'Times New Roman', serif" font-size="31.33" fill="#000" >Sensitivity (TPR)</text>
<text transform="translate(1595.13,1847.62) scale(1.0612,1)" font-family="'Liberation Serif', 'Times New Roman', serif" font-size="28.97" fill="#000" >GSE37991</text>
<text transform="translate(1576.59,1875.1) scale(1.0347,1)" font-family="'Liberation Serif', 'Times New Roman', serif" font-size="29.85" fill="#000" >AUC: 0.950</text>
<text transform="translate(1525.15,1902.69) scale(1.0353,1)" font-family="'Liberation Serif', 'Times New Roman', serif" font-size="30.30" fill="#000" >CI: 0.906−0.994</text>
<text transform="translate(1187.93,1421.7) scale(0.9462,1)" font-family="'Liberation Sans', Arial, sans-serif" font-size="43.33" fill="#000" font-weight="bold">F</text>
</svg></body></html>
